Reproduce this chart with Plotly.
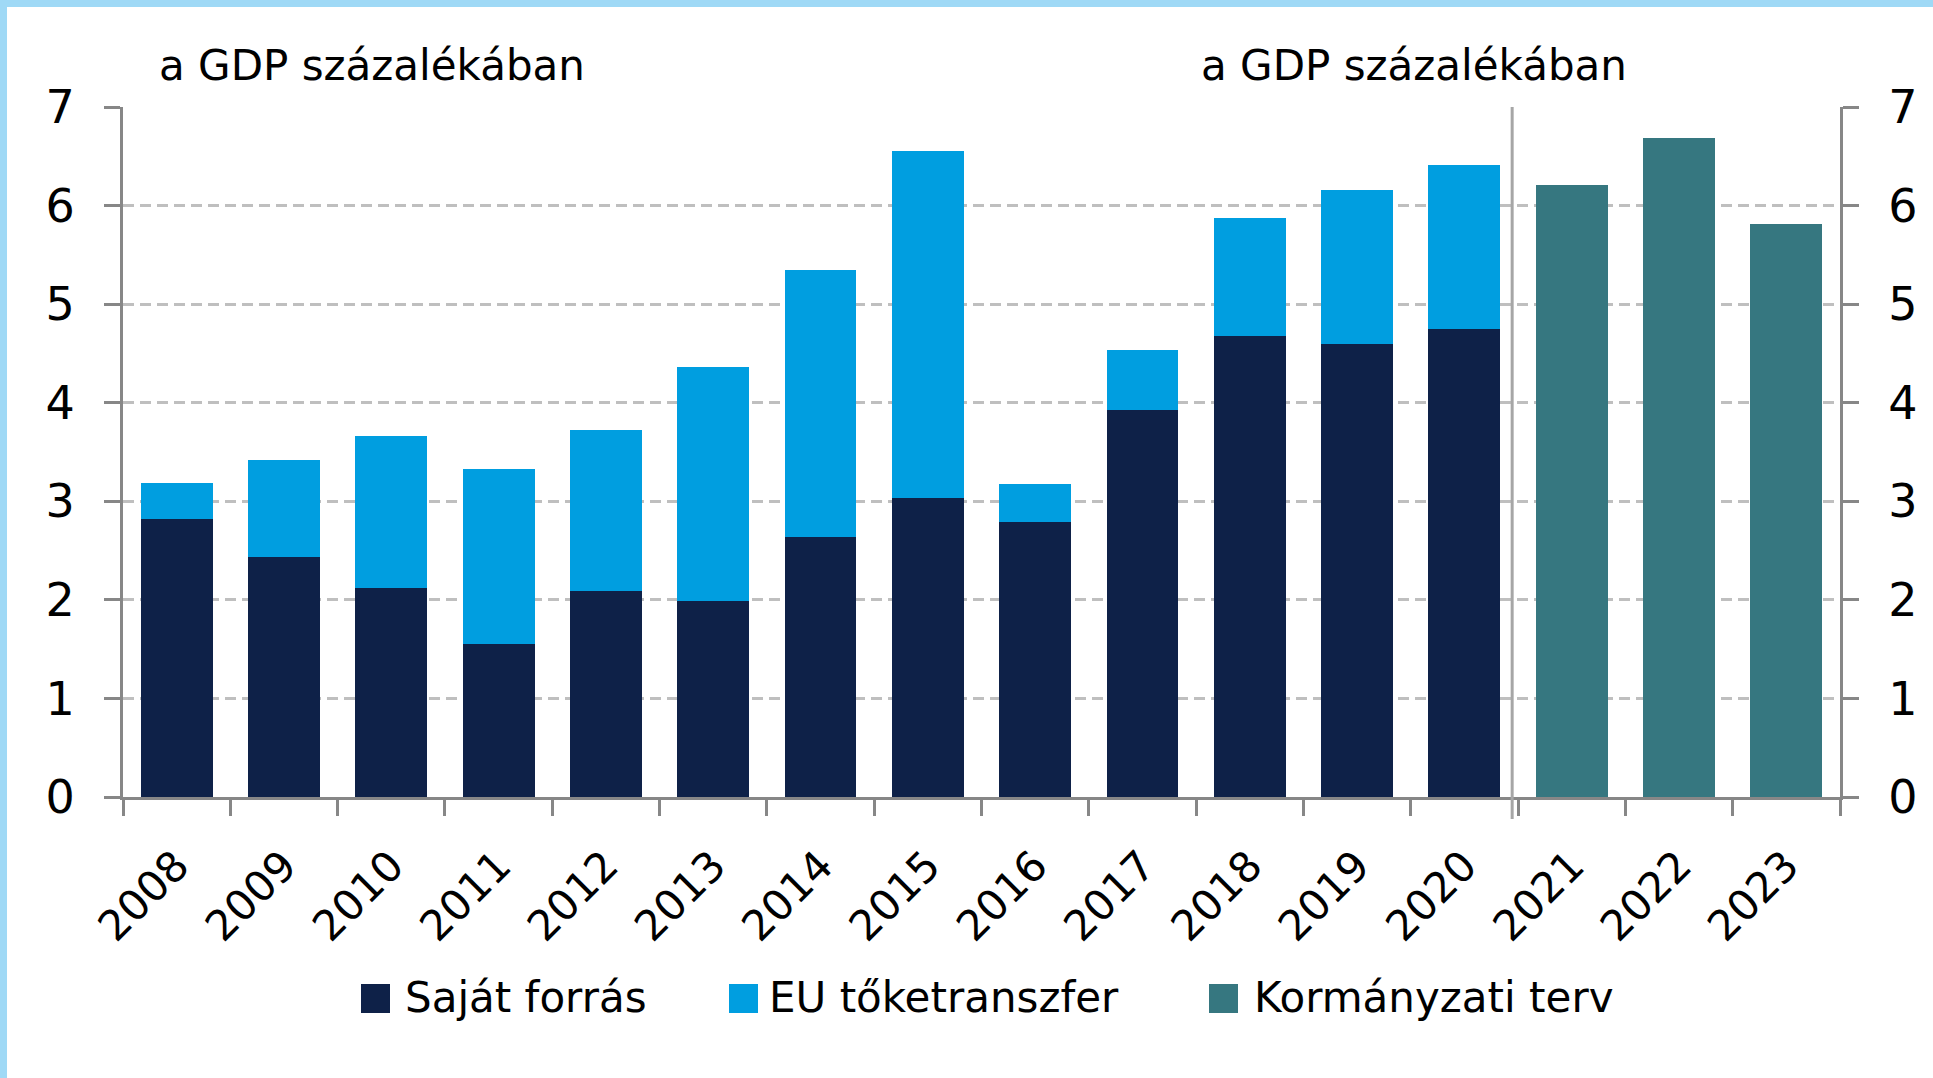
import plotly.graph_objects as go

# ---------------- data ----------------
years_hist = ["2008", "2009", "2010", "2011", "2012", "2013", "2014", "2015",
              "2016", "2017", "2018", "2019", "2020"]
years_plan = ["2021", "2022", "2023"]
all_years = years_hist + years_plan

sajat_forras = [2.82, 2.43, 2.12, 1.55, 2.09, 1.99, 2.64, 3.03,
                2.79, 3.93, 4.68, 4.60, 4.75]
total_hist = [3.19, 3.42, 3.66, 3.33, 3.72, 4.36, 5.35, 6.55,
              3.18, 4.53, 5.87, 6.16, 6.41]
eu_toketranszfer = [round(t - s, 2) for t, s in zip(total_hist, sajat_forras)]
kormanyzati_terv = [6.21, 6.69, 5.81]

series_names = ["Saját forrás", "EU tőketranszfer", "Kormányzati terv"]
series_colors = ["#0E2148", "#009EE0", "#367780"]
y_ticks = [0, 1, 2, 3, 4, 5, 6, 7]
unit_label = "a GDP százalékában"

# ---------------- geometry helpers (layout only) ----------------
W, H = 1933, 1078
L, R, T, B = 123, 1840, 107, 797


def xp(px):
    return (px - L) / (R - L)


def yp(py):
    return (B - py) / (B - T)


FONT = "DejaVu Sans"
AXIS_COL = "#878787"

fig = go.Figure()
fig.add_trace(go.Bar(x=years_hist, y=sajat_forras, name=series_names[0],
                     marker=dict(color=series_colors[0], line=dict(width=0)),
                     showlegend=False))
fig.add_trace(go.Bar(x=years_hist, y=eu_toketranszfer, name=series_names[1],
                     marker=dict(color=series_colors[1], line=dict(width=0)),
                     showlegend=False))
fig.add_trace(go.Bar(x=years_plan, y=kormanyzati_terv, name=series_names[2],
                     marker=dict(color=series_colors[2], line=dict(width=0)),
                     yaxis="y2", showlegend=False))

shapes = []
# light blue frame stripes (top and left)
shapes.append(dict(type="rect", xref="paper", yref="paper",
                   x0=xp(0), x1=xp(W), y0=yp(7), y1=yp(0),
                   fillcolor="#9FD9F6", line=dict(width=0), layer="below"))
shapes.append(dict(type="rect", xref="paper", yref="paper",
                   x0=xp(0), x1=xp(7), y0=yp(H), y1=yp(0),
                   fillcolor="#9FD9F6", line=dict(width=0), layer="below"))
# divider between actual and plan
div_x = len(years_hist) - 0.5 - 0.055
shapes.append(dict(type="line", xref="x", yref="paper",
                   x0=div_x, x1=div_x, y0=yp(819), y1=1.0,
                   line=dict(color="#A6A6A6", width=3), layer="above"))

annotations = [
    dict(text=unit_label, xref="paper", yref="paper", x=xp(157), y=yp(92),
         xanchor="left", yanchor="bottom", showarrow=False,
         font=dict(family=FONT, size=42, color="#000000")),
    dict(text=unit_label, xref="paper", yref="paper", x=xp(1199), y=yp(92),
         xanchor="left", yanchor="bottom", showarrow=False,
         font=dict(family=FONT, size=42, color="#000000")),
]

# manual legend (large square symbols)
leg_sq_x = [361, 729, 1209]
leg_tx_x = [403, 767, 1252]
for i in range(3):
    shapes.append(dict(type="rect", xref="paper", yref="paper",
                       x0=xp(leg_sq_x[i]), x1=xp(leg_sq_x[i] + 29),
                       y0=yp(1013), y1=yp(984),
                       fillcolor=series_colors[i], line=dict(width=0)))
    annotations.append(dict(text=series_names[i], xref="paper", yref="paper",
                            x=xp(leg_tx_x[i]), y=yp(997),
                            xanchor="left", yanchor="middle", showarrow=False,
                            font=dict(family=FONT, size=42, color="#000000")))

yaxis_common = dict(range=[0, 7], tickvals=y_ticks, ticks="outside",
                    ticklen=16, tickwidth=3, tickcolor=AXIS_COL,
                    showline=True, linecolor=AXIS_COL, linewidth=3,
                    zeroline=False, ticklabelstandoff=20,
                    tickfont=dict(family=FONT, size=46, color="#000000"))

fig.update_layout(
    width=W, height=H,
    margin=dict(l=L, r=W - R, t=T, b=H - B, autoexpand=False),
    paper_bgcolor="white", plot_bgcolor="white",
    barmode="stack", bargap=0.33,
    showlegend=False,
    xaxis=dict(type="category", categoryorder="array", categoryarray=all_years,
               range=[-0.5, len(all_years) - 0.5],
               tickangle=-45, ticks="outside", tickson="boundaries",
               ticklen=16, tickwidth=3, tickcolor=AXIS_COL,
               showline=True, linecolor=AXIS_COL, linewidth=3,
               showgrid=False, ticklabelstandoff=24,
               tickfont=dict(family=FONT, size=42, color="#000000")),
    yaxis=dict(**yaxis_common, side="left", showgrid=True,
               gridcolor="#BFBFBF", gridwidth=3, griddash="11px,6px"),
    yaxis2=dict(**yaxis_common, side="right", overlaying="y", showgrid=False,
                anchor="x"),
    shapes=shapes,
    annotations=annotations,
)

fig.write_html("out.html",
               config={"displayModeBar": False},
               post_script="document.body.style.margin='0';"
                           "document.body.style.overflow='hidden';")
